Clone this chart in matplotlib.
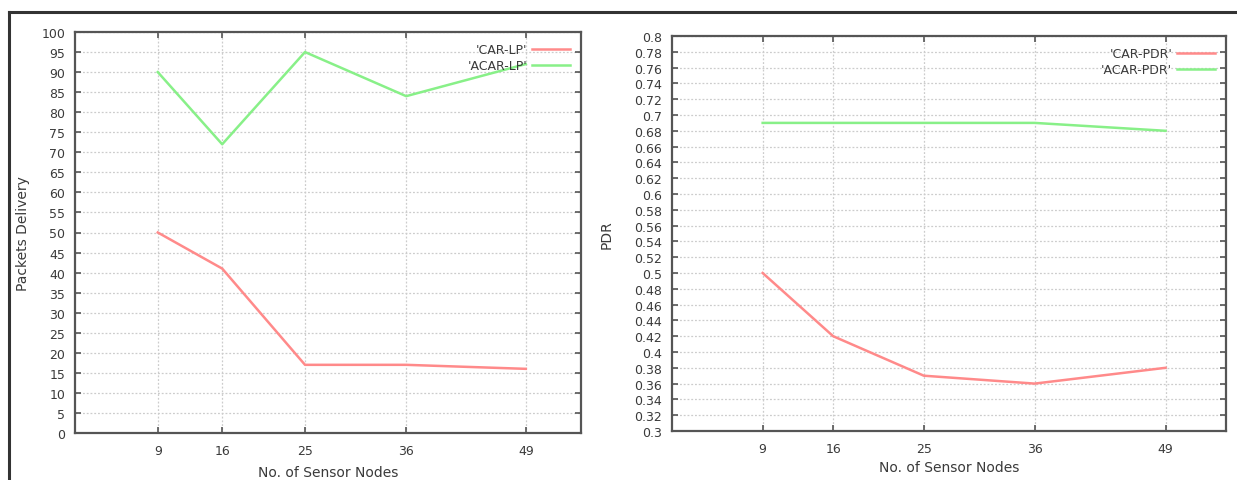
import matplotlib
matplotlib.use("Agg")
import matplotlib.pyplot as plt
from matplotlib.lines import Line2D

nodes = [9, 16, 25, 36, 49]
car_lp = [50, 41, 17, 17, 16]
acar_lp = [90, 72, 95, 84, 92]
car_pdr = [0.50, 0.42, 0.37, 0.36, 0.38]
acar_pdr = [0.69, 0.69, 0.69, 0.69, 0.68]

W, H = 1237, 481
fig = plt.figure(figsize=(W / 100, H / 100), dpi=100)
fig.patch.set_facecolor("white")

RED = "#ff8a8a"
GREEN = "#88f088"
TXT = "#3a3a3a"
FRAME = "#555555"


def px_ax(l, r, t, b):
    return fig.add_axes([l / W, 1 - b / H, (r - l) / W, (b - t) / H])


def style(ax, ylim, yticks, ylabel, labels, series):
    ax.set_xlim(0, 55)
    ax.set_ylim(*ylim)
    ax.set_xticks(nodes)
    ax.set_xticklabels([str(n) for n in nodes])
    ax.set_yticks(yticks)
    ax.grid(True, color="#cccccc", linestyle=(0, (1.5, 1.5)), linewidth=0.9)
    ax.set_axisbelow(True)
    for s in ax.spines.values():
        s.set_color(FRAME)
        s.set_linewidth(1.6)
    ax.tick_params(direction="in", length=4, width=1.2, color=FRAME,
                   top=True, right=True, labelsize=9, labelcolor=TXT)
    ax.tick_params(axis="y", pad=7)
    ax.tick_params(axis="x", pad=8)
    (a, b) = series
    ax.plot(nodes, a, color=RED, lw=1.8, label=labels[0])
    ax.plot(nodes, b, color=GREEN, lw=1.8, label=labels[1])
    leg = ax.legend(loc="upper right", frameon=False, markerfirst=False,
                    fontsize=9, handlelength=3.0, handletextpad=0.4,
                    labelspacing=0.25, borderaxespad=0.6,
                    borderpad=0.3)
    for t in leg.get_texts():
        t.set_color(TXT)
    ax.set_ylabel(ylabel, fontsize=10, color=TXT)
    ax.set_xlabel("No. of Sensor Nodes", fontsize=10, color=TXT)


ax1 = px_ax(75, 581, 33, 434)
style(ax1, (0, 100), list(range(0, 101, 5)), "Packets Delivery",
      ["'CAR-LP'", "'ACAR-LP'"], (car_lp, acar_lp))
ax1.set_yticklabels([str(v) for v in range(0, 101, 5)])
ax1.yaxis.set_label_coords(-45 / 506, 0.5)
ax1.xaxis.set_label_coords(0.5, -(466 - 434) / 401)

ax2 = px_ax(672, 1226, 37, 432)
pdr_ticks = [round(0.30 + 0.02 * i, 2) for i in range(26)]
style(ax2, (0.3, 0.8), pdr_ticks, "PDR",
      ["'CAR-PDR'", "'ACAR-PDR'"], (car_pdr, acar_pdr))
ax2.set_yticklabels([("%g" % v) for v in pdr_ticks])
ax2.yaxis.set_label_coords(-(672 - 614) / 554, 0.5)
ax2.xaxis.set_label_coords(0.5, -(461 - 432) / 395)

# outer frame (top and left edges)
fig.add_artist(Line2D([9 / W, 1.0], [1 - 13 / H, 1 - 13 / H], color="#333333", lw=2.2))
fig.add_artist(Line2D([9 / W, 9 / W], [0.0, 1 - 13 / H], color="#333333", lw=2.2))

fig.savefig("out.png", dpi=100, facecolor="white")
